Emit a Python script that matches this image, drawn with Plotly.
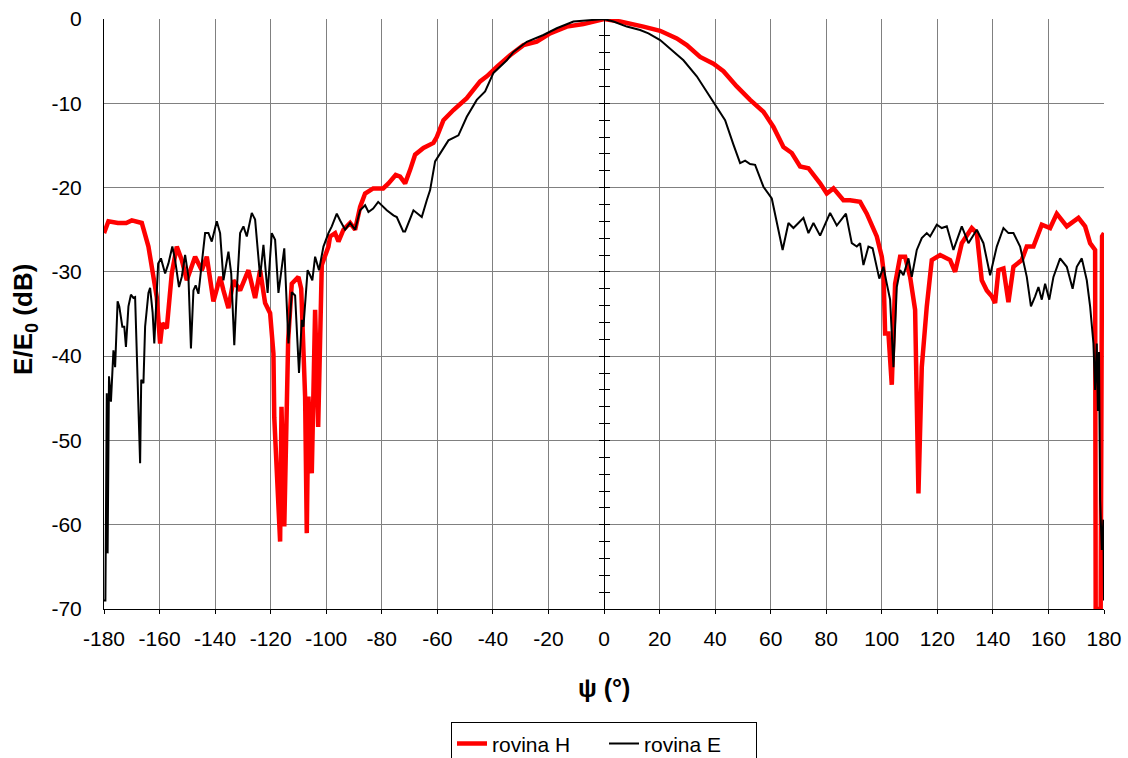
import plotly.graph_objects as go

# ---- data ----
psi_H = [-180, -178.4, -175, -172, -170, -168, -166.4, -164, -162.2, -161, -159.8, -159, -157.4,
         -155.6, -153.8, -152, -150.2, -147.2, -144.8, -143, -140.6, -138.2, -137, -135.2, -133.4,
         -131, -128, -125.6, -123.8, -122, -120.2, -119.0, -118.7, -117.6, -116.6, -116.1, -115.1,
         -113.7, -112.4, -110, -109, -107.6, -107, -106.4, -105.2, -104, -102.9, -101.6, -99.2,
         -98.6, -96.8, -95.6, -93.8, -91.4, -89.6, -87.8, -86, -83.1, -79.5, -77.6, -75, -73.4,
         -71.6, -69.8, -68, -65, -61.4, -60.2, -57.8, -54.2, -49.4, -44.6, -42.2, -38.6, -33.8,
         -29, -24.2, -19.4, -13.4, -7.4, -1.4, 0, 5.8, 10.6, 14.2, 20.2, 26.2, 29.8, 34.6, 39.4,
         43, 47.8, 52.6, 57.4, 61, 64.6, 67.6, 70.6, 73.6, 77.8, 80.2, 82.6, 86.2, 88.6, 92.2,
         94.6, 97, 98.2, 100, 100.6, 101.2, 102.4, 103.6, 104.8, 106.6, 108.4, 110.2, 112, 113.2,
         114.4, 116.2, 118, 121, 124.6, 126.4, 128.8, 132.4, 134.2, 136, 137.8, 139.6, 140.8, 142,
         143.8, 145.6, 147.4, 150.4, 152.2, 154.6, 157.6, 160.6, 163, 166.6, 170.8, 173.2, 175,
         176.8, 177.0, 178.8, 179.3, 180]
dB_H = [-25.4, -24.0, -24.2, -24.2, -23.9, -24.0, -24.2, -27.0, -30.2, -33.0, -38.5, -36.1, -36.7,
        -30.2, -27.0, -28.6, -31.0, -28.2, -29.8, -28.2, -33.5, -30.6, -32.2, -34.3, -31.0,
        -32.2, -29.8, -33.1, -29.8, -33.7, -34.9, -39.7, -47.3, -54.7, -62.0, -46.0, -60.2,
        -38.1, -31.4, -30.6, -32.0, -44.8, -61.0, -44.8, -53.9, -34.5, -48.4, -29.2, -27.0,
        -25.8, -25.4, -26.4, -25.0, -24.2, -25.0, -22.3, -20.7, -20.1, -20.1, -19.5, -18.5, -18.7,
        -19.5, -17.9, -16.1, -15.3, -14.7, -14.0, -12.0, -10.8, -9.4, -7.4, -6.8, -5.7, -4.3,
        -3.1, -2.7, -1.7, -0.9, -0.6, -0.1, 0.0, -0.3, -0.6, -0.9, -1.4, -2.3, -3.1, -4.5, -5.3,
        -6.2, -8.0, -9.6, -11.0, -12.8, -15.2, -15.9, -17.5, -17.7, -19.5, -20.7, -20.1, -21.5,
        -21.5, -21.7, -23.1, -25.0, -25.8, -28.2, -29.8, -37.3, -37.3, -43.4, -31.4, -28.2,
        -28.2, -30.6, -34.5, -56.3, -41.3, -34.1, -28.6, -28.0, -28.6, -30.0, -26.6, -24.8,
        -25.4, -31.0, -32.2, -32.9, -33.7, -29.8, -29.6, -33.6, -29.4, -28.6, -27.0, -27.0,
        -24.4, -24.8, -23.1, -24.6, -23.6, -24.6, -26.6, -27.4, -70.0, -70.0, -25.8, -25.4]

psi_E = [-180, -179.5, -179, -178.7, -178.2, -177.5, -176.6, -176, -175.1, -174.5, -173.4, -172.7,
         -172.1, -171.2, -170.3, -169.4, -168.8, -167.9, -167, -166.6, -165.8, -165.2, -164,
         -163.4, -162.5, -161.9, -161, -160.5, -159.5, -158, -156.8, -155.4, -154.4, -153, -152,
         -150.8, -149.6, -148.7, -147.8, -147, -146, -145, -143.6, -142.4, -141.2, -139.4, -138.2,
         -137, -135.2, -134.2, -133.1, -132.2, -131, -129.8, -128.6, -126.8, -125.6, -123.8,
         -122.6, -121.1, -119.6, -118.4, -117.2, -115.1, -113.6, -112.4, -111.2, -109.8, -108.8,
         -108.2, -106.7, -105.8, -105, -104, -102.6, -101, -99.2, -98, -96.2, -95, -93.2, -91.4,
         -89.6, -87.8, -86, -84.8, -83.1, -81.3, -78.2, -75.8, -74.6, -72.3, -71.6, -68.6, -65.6,
         -63.8, -62.6, -60.8, -59, -56, -52.4, -49.4, -45.8, -42.8, -39.8, -35, -32.6, -27.8,
         -21.8, -17, -11, -3.8, 0, 3.4, 8.2, 13, 16, 20.2, 23.8, 28.6, 33.4, 37, 40, 43.6, 46.6,
         49, 50.8, 52.6, 54.4, 57.4, 60.4, 62.8, 64.3, 66.4, 68.2, 70, 71.8, 73.6, 75.4, 77.8,
         81.4, 83.8, 87.1, 89.2, 91, 92.2, 93.4, 95.2, 96.7, 99.1, 100.6, 101.8, 103, 104.2,
         105.4, 106.6, 107.8, 109.6, 110.8, 112.6, 114.4, 116.2, 117.4, 119.8, 121.6, 123.4,
         125.8, 128.8, 131.2, 134.2, 136.6, 139, 141.4, 143.8, 145.6, 147.4, 149.8, 152.2, 153.7,
         155.2, 156.4, 157.6, 158.8, 160.3, 161.8, 164.2, 166.6, 168.7, 170.2, 172, 173.8, 175,
         176.2, 176.8, 177.4, 177.8, 178.2, 178.6, 179.2, 179.8, 180]
dB_E = [-69.0, -69.0, -44.4, -63.4, -42.4, -45.4, -39.3, -41.3, -33.5, -34.1, -36.5, -36.5,
        -38.9, -34.1, -32.7, -33.1, -33.0, -42.4, -52.7, -42.8, -43.2, -36.5, -32.5,
        -31.9, -34.8, -38.5, -32.2, -29.0, -28.4, -30.2, -29.0, -27.0, -28.6, -31.8, -30.6,
        -28.0, -30.6, -39.1, -32.2, -31.6, -32.6, -29.8, -25.4, -25.4, -26.4, -24.0, -25.4,
        -31.0, -27.6, -30.2, -38.7, -32.2, -25.4, -24.6, -25.8, -23.0, -23.8, -30.6,
        -26.8, -32.5, -25.4, -26.2, -32.5, -27.2, -38.5, -32.4, -32.8, -42.0, -35.7,
        -36.5, -29.8, -30.4, -31.0, -28.2, -29.8, -27.0, -25.4, -24.6, -23.1, -23.9, -25.0, -24.2,
        -25.0, -22.7, -22.1, -22.9, -22.5, -21.7, -22.7, -23.3, -23.5, -25.2, -25.2, -22.7, -23.5,
        -21.5, -20.3, -16.9, -15.9, -14.4, -13.8, -11.6, -9.6, -8.6, -6.4, -4.9, -3.9, -2.7,
        -1.9, -1.1, -0.3, -0.1, 0.0, -0.3, -0.9, -1.3, -1.7, -2.5, -3.5, -4.9, -6.8, -8.6, -10.2, -12.0, -14.9,
        -17.1, -16.8, -17.2, -17.3, -19.9, -21.3, -25.0, -27.4, -24.2, -24.8, -24.2, -23.6, -25.4, -24.2, -25.7,
        -23.0, -24.5, -23.1, -26.6, -27.0, -26.6, -29.2, -27.0, -27.2, -30.8, -29.4, -31.4, -33.3, -41.3,
        -31.8, -29.8, -30.4, -28.4, -30.6, -27.4, -26.0, -25.4, -25.8, -24.4, -24.8, -24.6,
        -27.4, -24.6, -26.6, -25.0, -26.6, -30.4, -27.0, -24.8, -25.4, -25.4, -27.0, -30.6, -34.1,
        -32.9, -31.8, -33.3, -31.4, -33.3, -30.6, -28.4, -29.4, -32.0, -29.4, -28.4, -31.0, -34.1,
        -38.5, -44.0, -38.5, -46.5, -39.5, -57.0, -63.0, -59.4, -69.0]

x_ticks = list(range(-180, 181, 20))
y_ticks = list(range(-70, 1, 10))

FONT = "Liberation Sans, Arial, sans-serif"

fig = go.Figure()
fig.add_trace(go.Scatter(x=psi_H, y=dB_H, mode="lines", name="rovina H",
                         line=dict(color="#ff0000", width=4.5)))
fig.add_trace(go.Scatter(x=psi_E, y=dB_E, mode="lines", name="rovina E",
                         line=dict(color="#000000", width=2)))
# empty helper traces so the crossing axis at psi = 0 is drawn
fig.add_trace(go.Scatter(x=[], y=[], yaxis="y2", showlegend=False, hoverinfo="skip"))
fig.add_trace(go.Scatter(x=[], y=[], yaxis="y3", showlegend=False, hoverinfo="skip"))

fig.update_layout(
    width=1128, height=758,
    margin=dict(l=104, r=24, t=19, b=149, autoexpand=False),
    paper_bgcolor="white", plot_bgcolor="white",
    font=dict(family=FONT, size=21, color="black"),
    showlegend=True,
    legend=dict(orientation="h", x=0.5, xanchor="center", y=-0.192, yanchor="top",
                bordercolor="black", borderwidth=1, font=dict(size=21),
                entrywidth=107, entrywidthmode="pixels", tracegroupgap=0),
    xaxis=dict(range=[-180, 180], tickvals=x_ticks, ticktext=[str(v) for v in x_ticks],
               showgrid=True, gridcolor="#808080", gridwidth=1, zeroline=False,
               showline=True, linecolor="black", linewidth=1,
               ticks="outside", ticklen=4, tickcolor="black", ticklabelstandoff=7),
    yaxis=dict(range=[-70, 0], tickvals=y_ticks, ticktext=[str(v) for v in y_ticks],
               showgrid=True, gridcolor="#808080", gridwidth=1, zeroline=False,
               showline=True, linecolor="black", linewidth=1,
               ticks="", ticklabelstandoff=17),
    yaxis2=dict(range=[-70, 0], overlaying="y", anchor="free", position=0.5, side="left",
                showgrid=False, zeroline=False, showline=True, linecolor="black", linewidth=1,
                tickvals=y_ticks, ticks="outside", ticklen=5, tickcolor="black",
                showticklabels=False,
                minor=dict(dtick=2, tick0=0, ticks="outside", ticklen=5, tickcolor="black")),
    yaxis3=dict(range=[-70, 0], overlaying="y", anchor="free", position=0.5, side="left",
                showgrid=False, zeroline=False, showline=False,
                tickvals=y_ticks, ticks="inside", ticklen=5, tickcolor="black",
                showticklabels=False,
                minor=dict(dtick=2, tick0=0, ticks="inside", ticklen=5, tickcolor="black")),
    annotations=[
        dict(text="<b>ψ (°)</b>", xref="paper", yref="paper", x=0.5, y=-0.134,
             xanchor="center", yanchor="middle", showarrow=False, font=dict(size=25)),
        dict(text="<b>E/E<sub>0</sub> (dB)</b>", xref="paper", yref="paper", x=-0.079, y=0.49,
             xanchor="center", yanchor="middle", showarrow=False, textangle=-90,
             font=dict(size=26)),
    ],
)

fig.write_html("out.html")
